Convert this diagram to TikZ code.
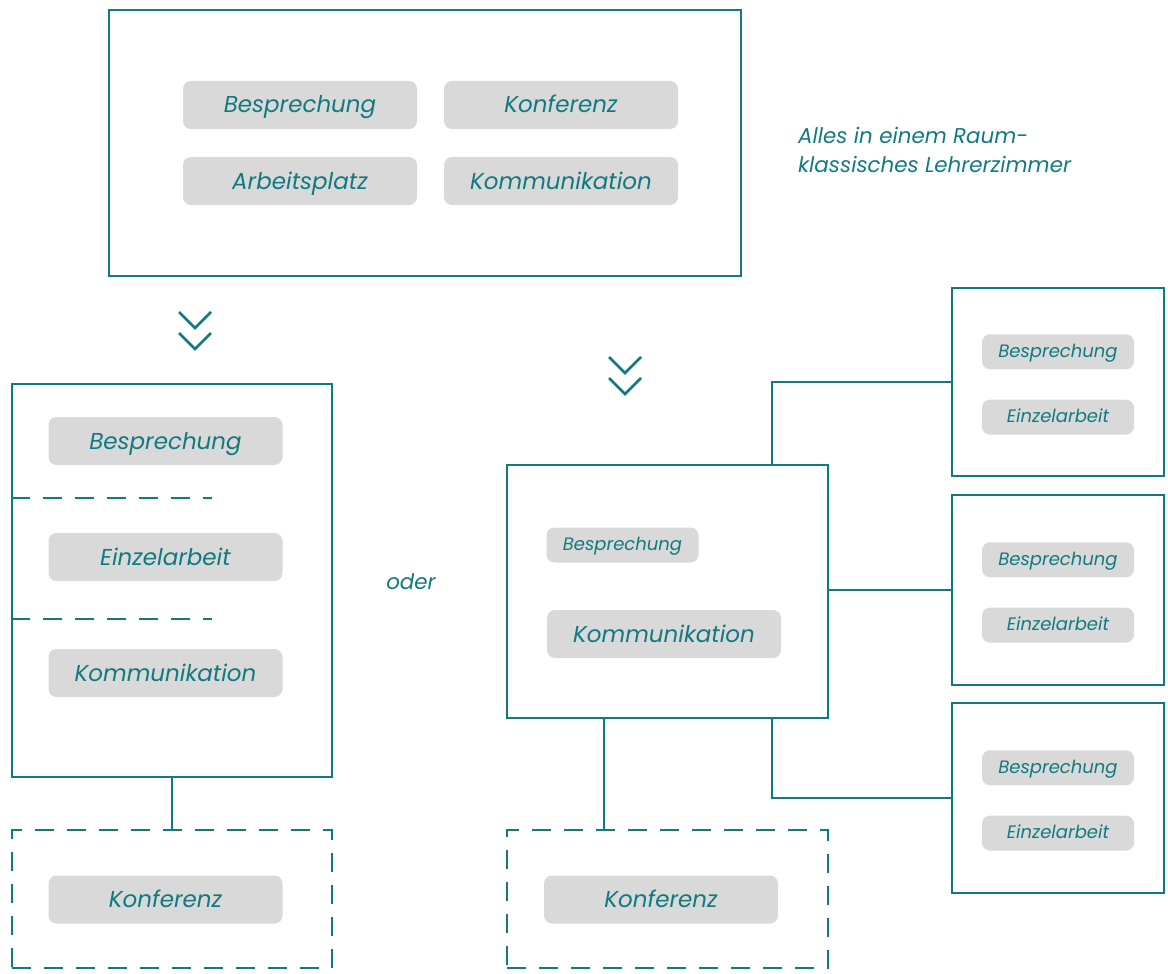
\documentclass[tikz,border=0pt]{standalone}
\usepackage{fontspec}
\setmainfont{Poppins}
\usepackage{xcolor}
\definecolor{Teal}{HTML}{117A80}
\definecolor{Pill}{HTML}{D9D9D9}
\usetikzlibrary{positioning,calc}
\tikzset{
  room/.style={draw=Teal,line width=2.5pt,minimum width=#1,inner sep=0pt},
  roomdash/.style={room=#1,dash pattern=on 19pt off 13pt},
  pill/.style={fill=Pill,rounded corners=8pt,minimum width=234pt,minimum height=48pt,
    inner sep=0pt,text=Teal,text height=21.75pt,text depth=5.75pt,
    font=\fontsize{23}{27}\selectfont\itshape},
  minipill/.style={pill,minimum width=152pt,minimum height=35pt,
    text height=15.5pt,text depth=4.5pt,
    font=\fontsize{18}{21}\selectfont\itshape},
  link/.style={draw=Teal,line width=2.5pt},
  note/.style={text=Teal,align=left,font=\fontsize{21.4}{29}\selectfont\itshape,inner sep=0pt},
  chevrons/.pic={
    \draw[Teal,line width=2.5pt] (-16,-8) -- (0,8) -- (16,-8);
    \draw[Teal,line width=2.5pt] (-16,13) -- (0,29) -- (16,13);
  }
}
\begin{document}
\begin{tikzpicture}[x=1pt,y=-1pt]
  \useasboundingbox (0,0) rectangle (1168,974);
  % classic staff room
  \node[room=632pt, minimum height=266pt] (classic) at (425,143) {};
  \node[pill] (cBesp) at (300,105) {Besprechung};
  \node[pill] (cKonf) at (561,105) {Konferenz};
  \node[pill] (cArb) at (300,181) {Arbeitsplatz};
  \node[pill] (cKomm) at (561,181) {Kommunikation};
  \node[note, anchor=west] (motto) at (798,150) {Alles in einem Raum-\\klassisches Lehrerzimmer};
  \pic at (195,320) {chevrons};
  \pic at (625,365) {chevrons};
  % variant one
  \node[room=320pt, minimum height=393pt] (zoned) at (172,580.5) {};
  \node[pill] (zBesp) at (165.5,441) {Besprechung};
  \node[pill] (zEinz) at (165.5,557) {Einzelarbeit};
  \node[pill] (zKomm) at (165.5,673) {Kommunikation};
  \draw[link, dash pattern=on 19pt off 13pt] (zoned.west |- 0,498) -- (212,498);
  \draw[link, dash pattern=on 19pt off 13pt] (zoned.west |- 0,619) -- (212,619);
  \node[roomdash=320pt, minimum height=138pt] (zonedConf) at (172,899) {};
  \node[pill] (zKonf) at (165.5,899.5) {Konferenz};
  \draw[link] (zoned.south) -- (zonedConf.north);
  \node[note] (oder) at (411,582) {oder};
  % variant two
  \node[room=321pt, minimum height=253pt] (hub) at (667.5,591.5) {};
  \node[minipill] (hBesp) at (622.5,545) {Besprechung};
  \node[pill] (hKomm) at (664,634) {Kommunikation};
  \node[roomdash=321pt, minimum height=138pt] (hubConf) at (667.5,899) {};
  \node[pill] (hKonf) at (661,899.5) {Konferenz};
  \draw[link] ([xshift=-63.5pt]hub.south) -- ([xshift=-63.5pt]hubConf.north);
  \foreach \i/\y/\h in {1/382/188, 2/590/190, 3/798/190}{
    \node[room=212pt, minimum height=\h pt] (side\i) at (1058,\y) {};
    \node[minipill, above=-0.5pt of side\i.center, yshift=13pt] (sBesp\i) {Besprechung};
    \node[minipill, below=-0.5pt of side\i.center, yshift=-18pt] (sEinz\i) {Einzelarbeit};
  }
  \draw[link] ([xshift=104.5pt]hub.north) |- (side1.west);
  \draw[link] (side2.west -| hub.east) -- (side2.west);
  \draw[link] ([xshift=104.5pt]hub.south) |- (side3.west);
\end{tikzpicture}
\end{document}
